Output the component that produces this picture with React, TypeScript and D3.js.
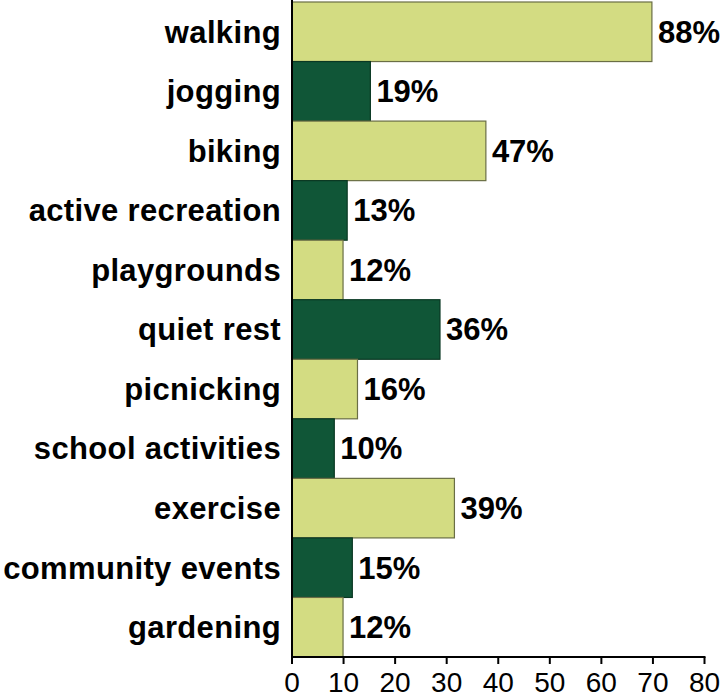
import React from "react";
import * as d3 from "d3";

const categories = [
  "walking",
  "jogging",
  "biking",
  "active recreation",
  "playgrounds",
  "quiet rest",
  "picnicking",
  "school activities",
  "exercise",
  "community events",
  "gardening",
];
// bar lengths
const barValues = [69.8, 15.2, 37.6, 10.7, 9.9, 28.7, 12.7, 8.2, 31.5, 11.7, 9.9];
// printed labels
const labelTexts = ["88%", "19%", "47%", "13%", "12%", "36%", "16%", "10%", "39%", "15%", "12%"];
const xTicks = [0, 10, 20, 30, 40, 50, 60, 70, 80];

const W = 723;
const H = 698;
const left = 292;
const right = 704.5;
const top = 2;
const bottom = 657;

const LIGHT = "#d3dc82";
const LIGHT_STROKE = "#6a6e45";
const DARK = "#105637";
const DARK_STROKE = "#0a3823";
const FONT = "'Liberation Sans', Arial, Helvetica, sans-serif";

export default function App() {
  const x = d3.scaleLinear().domain([0, 80]).range([left, right]);
  const y = d3.scaleBand<string>().domain(categories).range([top, bottom]).padding(0);
  const bw = y.bandwidth();

  return (
    <svg
      width={W}
      height={H}
      style={{ position: "absolute", left: 0, top: 0, display: "block", background: "#fff" }}
    >
      {categories.map((c, i) => {
        const y0 = y(c)!;
        const light = i % 2 === 0;
        return (
          <g key={c}>
            <rect
              x={x(0)}
              y={y0}
              width={x(barValues[i]) - x(0)}
              height={bw}
              fill={light ? LIGHT : DARK}
              stroke={light ? LIGHT_STROKE : DARK_STROKE}
              strokeWidth={1.2}
            />
            <text
              x={281}
              y={y0 + bw / 2}
              dy="0.35em"
              textAnchor="end"
              fontFamily={FONT}
              fontWeight="bold"
              fontSize={31}
              letterSpacing={0.35}
              fill="#000"
            >
              {c}
            </text>
            <text
              x={x(barValues[i]) + 6}
              y={y0 + bw / 2}
              dy="0.35em"
              textAnchor="start"
              fontFamily={FONT}
              fontWeight="bold"
              fontSize={31}
              fill="#000"
            >
              {labelTexts[i]}
            </text>
          </g>
        );
      })}
      {/* y axis line */}
      <line x1={left} x2={left} y1={0} y2={bottom + 1} stroke="#000" strokeWidth={2} />
      {/* x axis */}
      <line x1={left - 1} x2={x(80) + 1} y1={bottom} y2={bottom} stroke="#000" strokeWidth={2} />
      {xTicks.map((t) => (
        <g key={t}>
          <line x1={x(t)} x2={x(t)} y1={bottom} y2={bottom + 7} stroke="#000" strokeWidth={2} />
          <text
            x={x(t)}
            y={692}
            textAnchor="middle"
            fontFamily={FONT}
            fontSize={28}
            fill="#000"
          >
            {t}
          </text>
        </g>
      ))}
    </svg>
  );
}
